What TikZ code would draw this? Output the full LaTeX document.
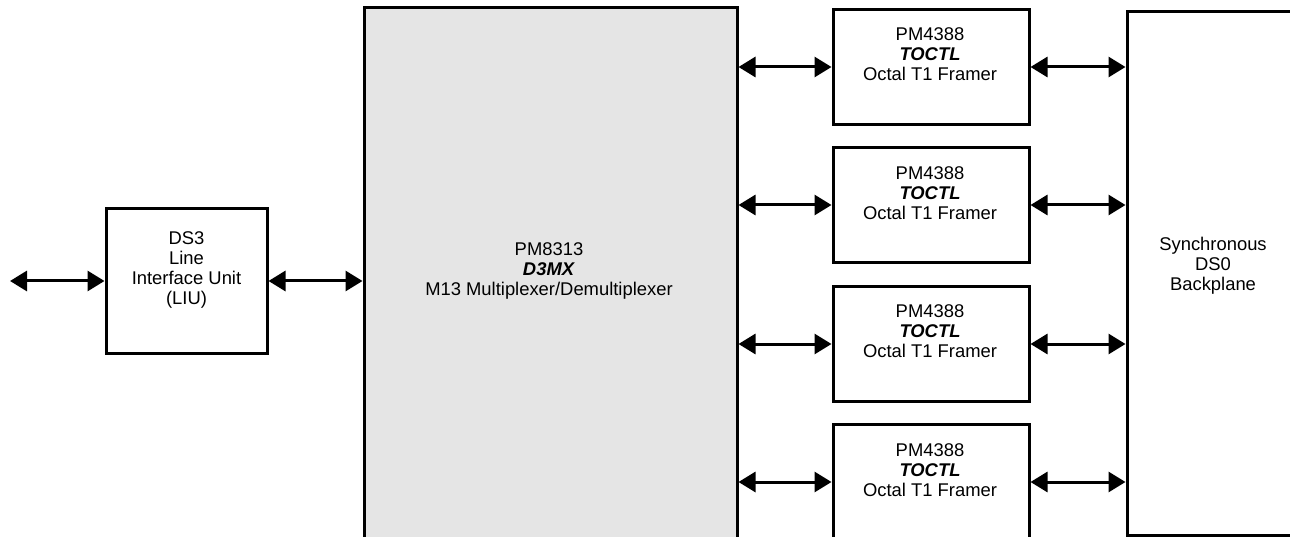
\documentclass[tikz,border=0pt]{standalone}
\usepackage{fontspec}
\setmainfont{Liberation Sans}
\usetikzlibrary{arrows.meta}
\definecolor{boxgray}{RGB}{229,229,229}
\begin{document}
\begin{tikzpicture}[x=1pt,y=-1pt,
  blk/.style={draw=black,line width=3pt,rectangle,inner sep=0pt},
  lbl/.style={align=center,font=\fontsize{18.4}{20}\selectfont,inner sep=0pt},
  link/.style={line width=3pt,{Triangle[length=17pt,width=20pt]}-{Triangle[length=17pt,width=20pt]}}]
\useasboundingbox (0,0) rectangle (1290,537);
% boxes
\node[blk,minimum width=161pt,minimum height=144pt] (liu) at (186.5,281) {};
\node[blk,fill=boxgray,minimum width=373pt,minimum height=600pt] (d3mx) at (550.5,308) {};
\node[blk,minimum width=196pt,minimum height=115pt] (f1) at (931,67) {};
\node[blk,minimum width=196pt,minimum height=115pt] (f2) at (931,205) {};
\node[blk,minimum width=196pt,minimum height=115pt] (f3) at (931,344) {};
\node[blk,minimum width=196pt,minimum height=115pt] (f4) at (931,482) {};
\node[blk,minimum width=273pt,minimum height=523pt] (bp) at (1263.5,273.5) {};
% texts
\node[lbl] (liut) at (186.5,270) {DS3\\Line\\Interface Unit\\(LIU)};
\node[lbl] (d3mxt) at (549,271) {PM8313\\\textbf{\textit{D3MX}}\\M13 Multiplexer/Demultiplexer};
\node[lbl] (f1t) at (930,54.5) {PM4388\\\textbf{\textit{TOCTL}}\\Octal T1 Framer};
\node[lbl] (f2t) at (930,193) {PM4388\\\textbf{\textit{TOCTL}}\\Octal T1 Framer};
\node[lbl] (f3t) at (930,331.5) {PM4388\\\textbf{\textit{TOCTL}}\\Octal T1 Framer};
\node[lbl] (f4t) at (930,470) {PM4388\\\textbf{\textit{TOCTL}}\\Octal T1 Framer};
\node[lbl] (bpt) at (1213,266) {Synchronous\\DS0\\Backplane};
% connectors
\coordinate (ext) at (10,281);
\draw[link] (ext) -- (liu.west);
\draw[link] (liu.east) -- (liu.east -| d3mx.west);
\foreach \f in {f1,f2,f3,f4}{
  \draw[link] (\f.west -| d3mx.east) -- (\f.west);
  \draw[link] (\f.east) -- (\f.east -| bp.west);
}
\end{tikzpicture}
\end{document}
